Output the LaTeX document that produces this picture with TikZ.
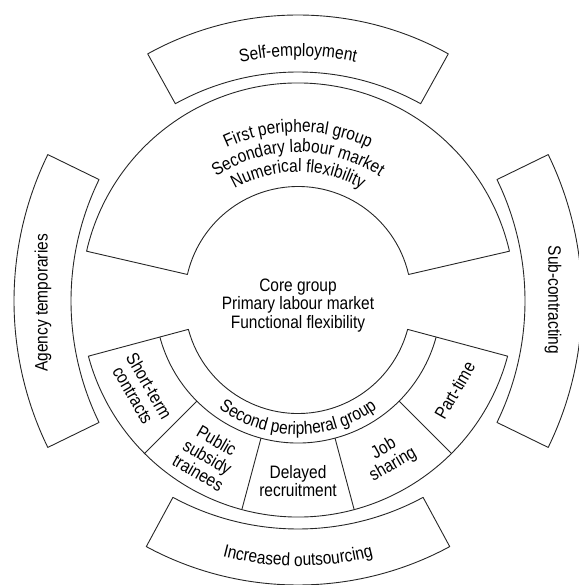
\documentclass[tikz,border=0pt]{standalone}
\usepackage{fontspec}
\setmainfont{Liberation Sans}[FakeStretch=0.86]
\usetikzlibrary{decorations.text}
\newcommand\lblfont{\fontsize{18}{18.5}\selectfont}
\newcommand\sectorshape[5]{%
  \draw[shapeline] ([shift={(#4:#2)}]#1) arc[start angle=#4, end angle=#5, radius=#2]
    -- ([shift={(#5:#3)}]#1) arc[start angle=#5, end angle=#4, radius=#3] -- cycle;}
\newcommand\arctext[5]{% center, radius, start, end, text
  \path[decorate, decoration={text along path, text align=center,
    text={|\lblfont|#5}}] ([shift={(#3:#2)}]#1) arc[start angle=#3, end angle=#4, radius=#2];}
\begin{document}
\begin{tikzpicture}[x=1pt,y=1pt,
  shapeline/.style={draw=black!85, line width=0.9pt, line join=round},
  lbl/.style={font=\lblfont, align=center, inner sep=0pt}]
\useasboundingbox (0,-585) rectangle (578,0);
\coordinate (C) at (298,-300);
\coordinate (SEc) at (298,-325);
\coordinate (IOc) at (298,-266);
\coordinate (ATc) at (348,-301);
\coordinate (SCc) at (248,-301);
% outer boxes
\sectorshape{SEc}{253}{310}{61}{119}
\sectorshape{IOc}{263}{319}{241.6}{298.4}
\sectorshape{ATc}{277}{334}{154}{206}
\sectorshape{SCc}{277}{334}{-26}{26}
% first peripheral group
\sectorshape{C}{113.5}{217}{13}{167}
% second peripheral group
\sectorshape{C}{113.5}{217}{195}{345}
\draw[shapeline] ([shift={(195:143)}]C) arc[start angle=195, end angle=345, radius=143];
\foreach \a in {225,255,285,315}
  \draw[shapeline] ([shift={(\a:143)}]C) -- ([shift={(\a:217)}]C);
% curved texts
\arctext{SEc}{269}{115}{65}{Self-employment}
\arctext{C}{168}{140}{40}{First peripheral group}
\arctext{C}{148}{140}{40}{Secondary labour market}
\arctext{C}{128}{140}{40}{Numerical flexibility}
\arctext{C}{134.5}{215}{325}{Second peripheral group}
\arctext{IOc}{300}{250}{290}{Increased outsourcing}
% straight texts
\node[lbl] (core) at (298,-305.5) {Core group\\Primary labour market\\Functional flexibility};
\node[lbl, rotate=-60] (short) at ([shift={(210:181)}]C) {Short-term\\contracts};
\node[lbl, rotate=-30] (public) at ([shift={(240:181)}]C) {Public\\subsidy\\trainees};
\node[lbl] (delayed) at ([shift={(270:181)}]C) {Delayed\\recruitment};
\node[lbl, rotate=30] (job) at ([shift={(300:181)}]C) {Job\\sharing};
\node[lbl, rotate=60] (part) at ([shift={(330:181)}]C) {Part-time};
\node[lbl, rotate=90] (agency) at (43,-303) {Agency temporaries};
\node[lbl, rotate=-90] (sub) at (553,-300) {Sub-contracting};
\end{tikzpicture}
\end{document}
